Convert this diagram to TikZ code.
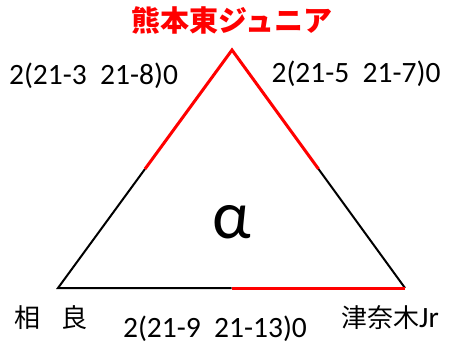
\documentclass[tikz,border=0pt]{standalone}
\usepackage{fontspec}
\usetikzlibrary{calc}
\setmainfont{Carlito}
\newfontfamily\jpfont{Noto Sans CJK JP}
\begin{document}
\begin{tikzpicture}[x=1pt,y=-1pt,
  edge/.style={line width=2pt,black},
  rededge/.style={line width=3pt,red},
  lbl/.style={inner sep=0pt,font=\fontsize{29.5}{32}\selectfont},
  jlbl/.style={inner sep=0pt,font=\jpfont\fontsize{26}{30}\selectfont}]
\useasboundingbox (0,0) rectangle (449,347);
\coordinate (T) at (232,50);
\coordinate (L) at (58,288);
\coordinate (R) at (405,288);
\coordinate (ML) at ($(T)!0.5!(L)$);
\coordinate (MR) at ($(T)!0.5!(R)$);
\coordinate (MB) at ($(L)!0.5!(R)$);
\draw[edge] (ML) -- (L) -- (MB);
\draw[edge] (MR) -- (R);
\draw[rededge,line join=miter] (ML) -- (T) -- (MR);
\draw[rededge] (MB) -- (R);
\node[inner sep=0pt,text=red,font=\jpfont\bfseries\fontsize{29}{32}\selectfont] (top) at (232,20) {熊本東ジュニア};
\node[lbl] (s1) at (93.5,76) {2(21-3\ \ 21-8)0};
\node[lbl] (s2) at (356,74) {2(21-5\ \ 21-7)0};
\node[lbl] (s3) at (215,329) {2(21-9\ \ 21-13)0};
\node[inner sep=0pt,font=\fontsize{68}{70}\selectfont] (a) at (232,222) {α};
\node[jlbl] (bl) at (51,318) {相\hspace{22pt}良};
\node[jlbl] (br) at (390,318) {津奈木{\rmfamily\fontsize{29.5}{32}\selectfont Jr}};
\end{tikzpicture}
\end{document}
